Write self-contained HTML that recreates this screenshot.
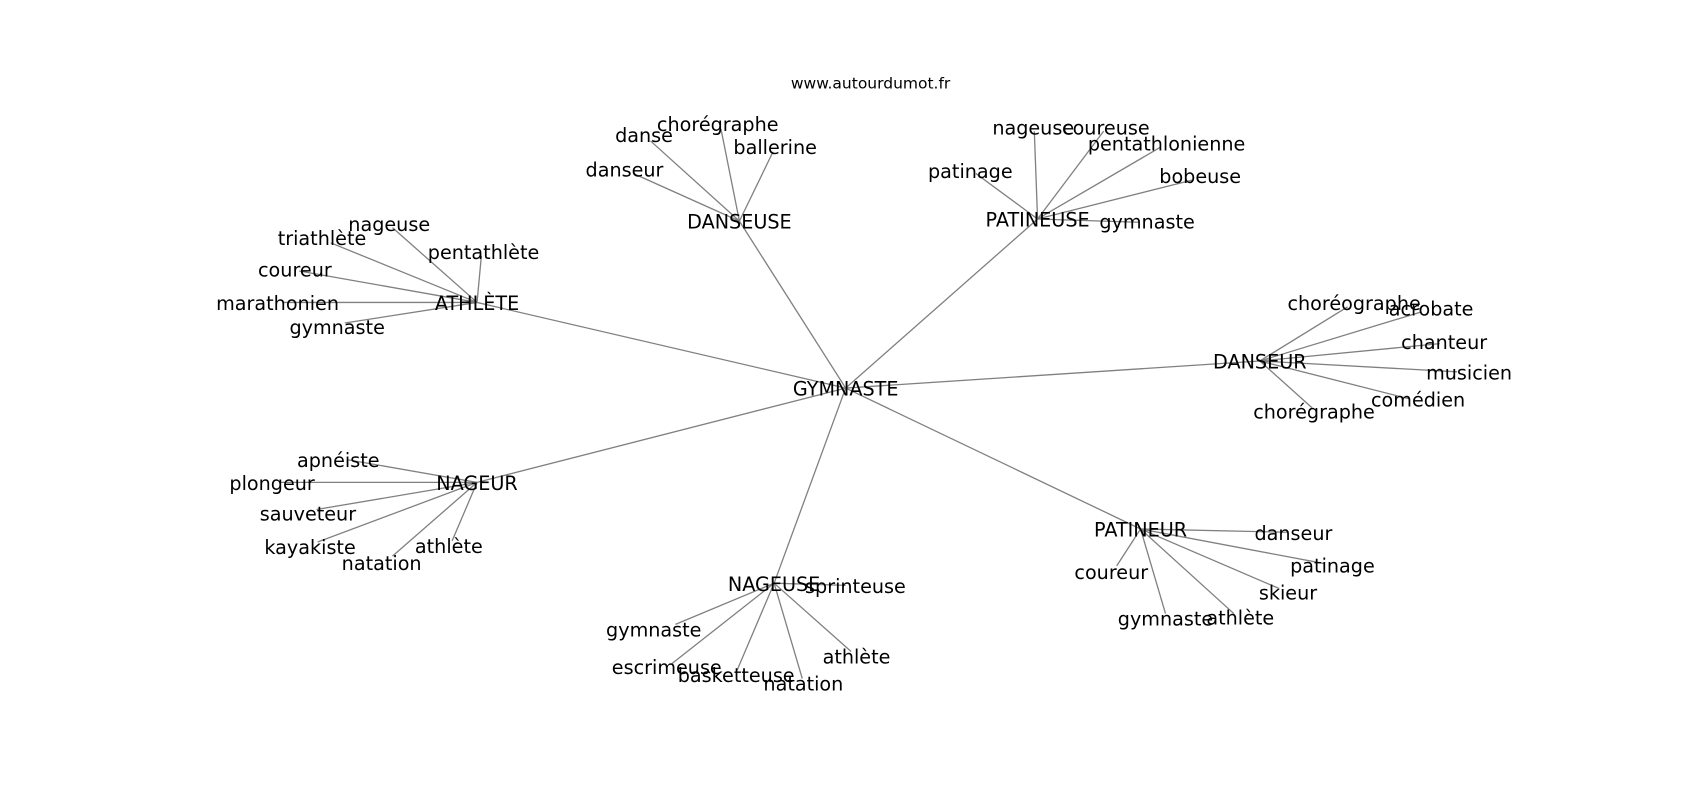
<!DOCTYPE html>
<html><head><meta charset="utf-8"><style>
html,body{margin:0;padding:0;background:#fff;}
svg{display:block;}
text{font-family:"DejaVu Sans","Liberation Sans",sans-serif;font-size:17.7px;fill:#000;text-anchor:middle;dominant-baseline:central;}
line{stroke:#808080;stroke-width:1.2;}
</style></head><body>
<svg width="1700" height="800" viewBox="0 0 1568 738" preserveAspectRatio="none">
<g>
<line x1="780" y1="358" x2="440" y2="279"/>
<line x1="780" y1="358" x2="682" y2="204"/>
<line x1="780" y1="358" x2="957" y2="202"/>
<line x1="780" y1="358" x2="1162" y2="333"/>
<line x1="780" y1="358" x2="1052" y2="488"/>
<line x1="780" y1="358" x2="714" y2="538"/>
<line x1="780" y1="358" x2="440" y2="445"/>

<line x1="440" y1="279" x2="305" y2="224"/>
<line x1="440" y1="279" x2="362" y2="210"/>
<line x1="440" y1="279" x2="444" y2="236"/>
<line x1="440" y1="279" x2="276" y2="250"/>
<line x1="440" y1="279" x2="262" y2="279"/>
<line x1="440" y1="279" x2="318" y2="298"/>

<line x1="682" y1="204" x2="600" y2="130"/>
<line x1="682" y1="204" x2="665" y2="119"/>
<line x1="682" y1="204" x2="713" y2="140"/>
<line x1="682" y1="204" x2="584" y2="160"/>

<line x1="957" y1="202" x2="954" y2="121"/>
<line x1="957" y1="202" x2="1018" y2="121"/>
<line x1="957" y1="202" x2="1070" y2="136"/>
<line x1="957" y1="202" x2="900" y2="160"/>
<line x1="957" y1="202" x2="1100" y2="166"/>
<line x1="957" y1="202" x2="1050" y2="205"/>

<line x1="1162" y1="333" x2="1243" y2="283"/>
<line x1="1162" y1="333" x2="1310" y2="288"/>
<line x1="1162" y1="333" x2="1328" y2="317"/>
<line x1="1162" y1="333" x2="1344" y2="343"/>
<line x1="1162" y1="333" x2="1300" y2="368"/>
<line x1="1162" y1="333" x2="1210" y2="376"/>

<line x1="1052" y1="488" x2="1187" y2="491"/>
<line x1="1052" y1="488" x2="1030" y2="522"/>
<line x1="1052" y1="488" x2="1222" y2="520"/>
<line x1="1052" y1="488" x2="1180" y2="543"/>
<line x1="1052" y1="488" x2="1075" y2="566"/>
<line x1="1052" y1="488" x2="1138" y2="566"/>

<line x1="714" y1="538" x2="780" y2="540"/>
<line x1="714" y1="538" x2="623" y2="576"/>
<line x1="714" y1="538" x2="620" y2="612"/>
<line x1="714" y1="538" x2="680" y2="618"/>
<line x1="714" y1="538" x2="740" y2="626"/>
<line x1="714" y1="538" x2="785" y2="601"/>

<line x1="440" y1="445" x2="320" y2="424"/>
<line x1="440" y1="445" x2="258" y2="445"/>
<line x1="440" y1="445" x2="292" y2="470"/>
<line x1="440" y1="445" x2="293" y2="500"/>
<line x1="440" y1="445" x2="362" y2="513"/>
<line x1="440" y1="445" x2="417" y2="499"/>
</g>
<g transform="translate(0,1)">
<text x="803" y="76" style="font-size:14.3px">www.autourdumot.fr</text>

<text x="780" y="358">GYMNASTE</text>
<text x="440" y="279">ATHLÈTE</text>
<text x="682" y="204">DANSEUSE</text>
<text x="957" y="202">PATINEUSE</text>
<text x="1162" y="333">DANSEUR</text>
<text x="1052" y="488">PATINEUR</text>
<text x="714" y="538">NAGEUSE</text>
<text x="440" y="445">NAGEUR</text>

<text x="297" y="219">triathlète</text>
<text x="359" y="206">nageuse</text>
<text x="446" y="232">pentathlète</text>
<text x="272" y="248">coureur</text>
<text x="256" y="279">marathonien</text>
<text x="311" y="301">gymnaste</text>

<text x="594" y="124">danse</text>
<text x="662" y="114">chorégraphe</text>
<text x="715" y="135">ballerine</text>
<text x="576" y="156">danseur</text>

<text x="953" y="117">nageuse</text>
<text x="1020" y="117">coureuse</text>
<text x="1076" y="132">pentathlonienne</text>
<text x="895" y="157">patinage</text>
<text x="1107" y="162">bobeuse</text>
<text x="1058" y="204">gymnaste</text>

<text x="1249" y="279">choréographe</text>
<text x="1320" y="284">acrobate</text>
<text x="1332" y="315">chanteur</text>
<text x="1355" y="343">musicien</text>
<text x="1308" y="368">comédien</text>
<text x="1212" y="379">chorégraphe</text>

<text x="1193" y="491">danseur</text>
<text x="1025" y="527">coureur</text>
<text x="1229" y="521">patinage</text>
<text x="1188" y="546">skieur</text>
<text x="1075" y="570">gymnaste</text>
<text x="1144" y="569">athlète</text>

<text x="789" y="540">sprinteuse</text>
<text x="603" y="580">gymnaste</text>
<text x="615" y="615">escrimeuse</text>
<text x="679" y="622">basketteuse</text>
<text x="741" y="630">natation</text>
<text x="790" y="605">athlète</text>

<text x="312" y="424">apnéiste</text>
<text x="251" y="445">plongeur</text>
<text x="284" y="473">sauveteur</text>
<text x="286" y="504">kayakiste</text>
<text x="352" y="519">natation</text>
<text x="414" y="503">athlète</text>
</g>
</svg>
</body></html>
